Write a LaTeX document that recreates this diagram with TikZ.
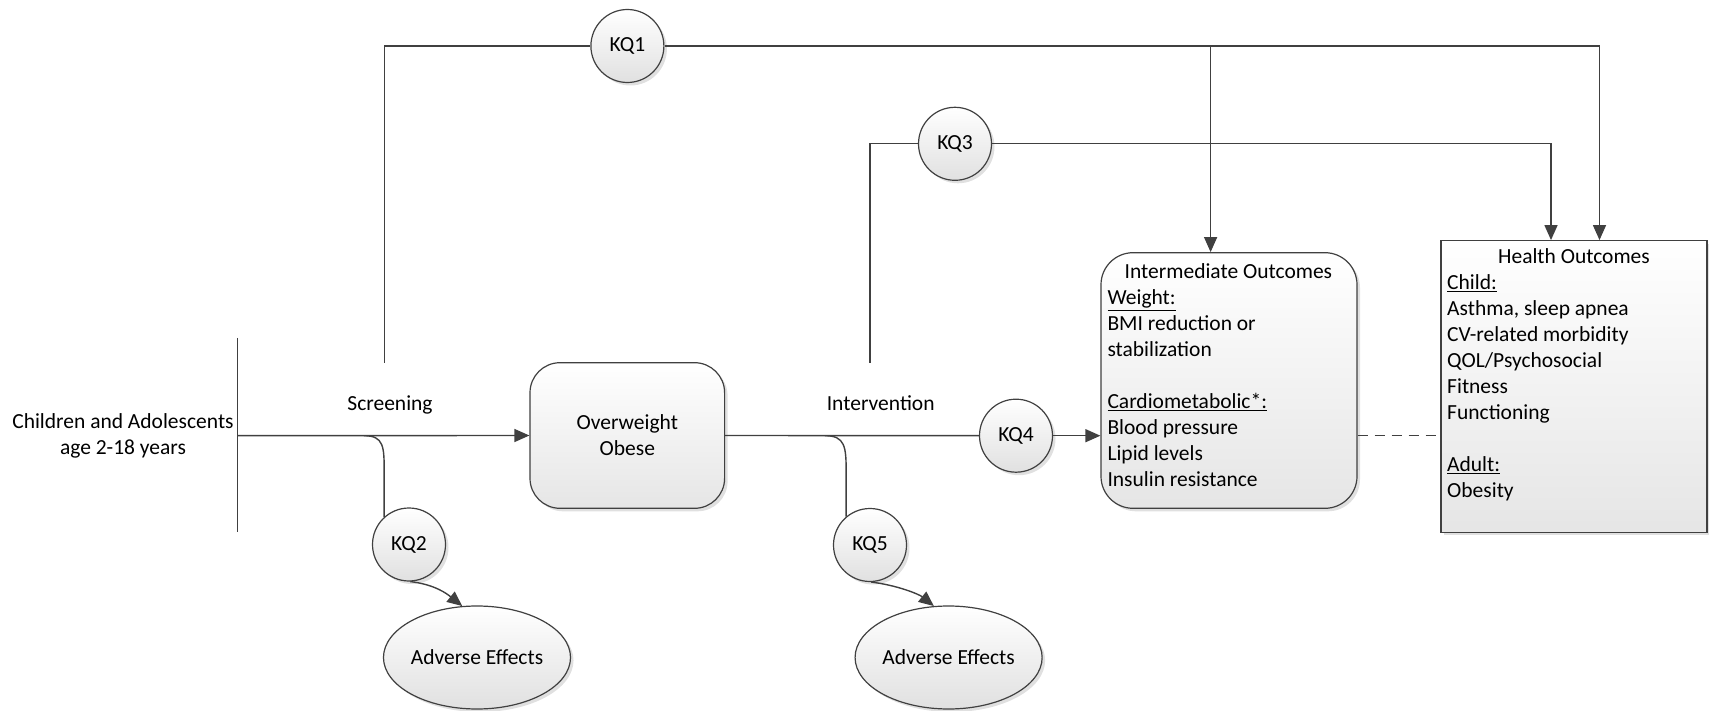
\documentclass[tikz,border=0pt]{standalone}
\usepackage{fontspec}
\setmainfont{Carlito}
\usetikzlibrary{arrows.meta,shapes.geometric,shadows,calc}
\definecolor{ln}{HTML}{404040}
\tikzset{
  fnt/.style={font=\fontsize{21.5}{25.9}\selectfont, text=black},
  sh/.style={drop shadow={shadow xshift=3pt, shadow yshift=-3pt, opacity=0.3, fill=black!40}},
  kq/.style={fnt, circle, draw=ln, line width=1.2pt, minimum size=73pt, inner sep=0pt, top color=white, bottom color=black!12, sh},
  rbox/.style={fnt, draw=ln, line width=1.2pt, top color=white, bottom color=black!10, sh, inner sep=0pt},
  ae/.style={fnt, ellipse, draw=ln, line width=1.2pt, top color=white, bottom color=black!12, sh, inner sep=0pt},
  conn/.style={draw=ln, line width=1.4pt},
  arr/.style={conn, -{Triangle[length=15pt,width=13pt]}},
  lineL/.style={fnt, anchor=base west, inner sep=0pt},
}
\begin{document}
\begin{tikzpicture}[x=1pt,y=-1pt]
\useasboundingbox (0,0) rectangle (1709,711);

% left population
\node[fnt, align=center] (pop) at (123,435.7) {Children and Adolescents\\age 2-18 years};
\coordinate (bartop) at (237.5,338);
\coordinate (barbot) at (237.5,532);
\coordinate (start) at (237.5,435.7);

% boxes
\node[rbox, rounded corners=30pt, minimum width=194.6pt, minimum height=145.6pt, align=center] (ow) at (627.3,435.5) {Overweight\\Obese};
\node[rbox, rounded corners=32pt, minimum width=256pt, minimum height=255.6pt] (io) at (1229,380.5) {};
\node[rbox, minimum width=266pt, minimum height=291.6pt] (ho) at (1574,386.5) {};

% labels
\node[fnt, anchor=base] (scr) at (390,410) {Screening};
\node[fnt, anchor=base] (int) at (880.7,410) {Intervention};

% KQ circles
\node[kq] (kq1) at (627.4,46) {KQ1};
\node[kq] (kq2) at (409,544.5) {KQ2};
\node[kq] (kq3) at (955,143.8) {KQ3};
\node[kq] (kq4) at (1016,435.7) {KQ4};
\node[kq] (kq5) at (870,545) {KQ5};

% adverse effects
\node[ae, minimum width=187pt, minimum height=103pt] (ae1) at (477,657.5) {Adverse Effects};
\node[ae, minimum width=182pt, minimum height=103pt] (ae2) at (948.6,657.5) {Adverse Effects};

% box texts
\node[fnt, anchor=base] (iot) at (1228.4,278.7) {Intermediate Outcomes};
\foreach \t/\k [count=\i] in {{\underline{Weight:}}/0, {BMI reduction or}/1, {stabilization}/2, {\underline{Cardiometabolic*:}}/4, {Blood pressure}/5, {Lipid levels}/6, {Insulin resistance}/7}
  \node[lineL] (io\i) at (1107.3,{304.7+25.9*\k}) {\t};
\node[fnt, anchor=base] (hot) at (1574,263.7) {Health Outcomes};
\foreach \t/\k [count=\i] in {{\underline{Child:}}/0, {Asthma, sleep apnea}/1, {CV-related morbidity}/2, {QOL/Psychosocial}/3, {Fitness}/4, {Functioning}/5, {\underline{Adult:}}/7, {Obesity}/8}
  \node[lineL] (ho\i) at (1447,{289.7+26*\k}) {\t};

% connectors
\draw[conn] (bartop) -- (barbot);
\draw[arr] (start) -- (ow.west);
\coordinate (b2) at (364,435.7);
\draw[conn] (b2) .. controls +(20,0) and +(0,-25) .. ($(kq2.132)+(0,-45)$) -- (kq2.132);
\draw[arr] (kq2.272) .. controls +(25,3) and +(-15,-12) .. (ae1.106);

\draw[conn] (ow.east) -- (kq4.west);
\draw[arr] (kq4.east) -- (io.west |- kq4);
\coordinate (b5) at (825,435.7);
\draw[conn] (b5) .. controls +(20,0) and +(0,-25) .. ($(kq5.130)+(0,-45)$) -- (kq5.130);
\draw[arr] (kq5.272) .. controls +(25,3) and +(-15,-12) .. (ae2.106);

\coordinate (k1s) at (384.6,363);
\draw[conn] (k1s) |- (kq1.west);
\draw[arr] (kq1.east) -| ($(ho.north)+(25.5,0)$);
\coordinate (j1) at (1210.6,46);
\draw[arr] (j1) -- (j1 |- io.north);

\coordinate (k3s) at (870,362.7);
\draw[conn] (k3s) |- (kq3.west);
\draw[arr] (kq3.east) -| ($(ho.north)+(-23,0)$);

\draw[conn, dash pattern=on 10pt off 7pt] (io.east |- kq4) -- (ho.west |- kq4);
\end{tikzpicture}
\end{document}
